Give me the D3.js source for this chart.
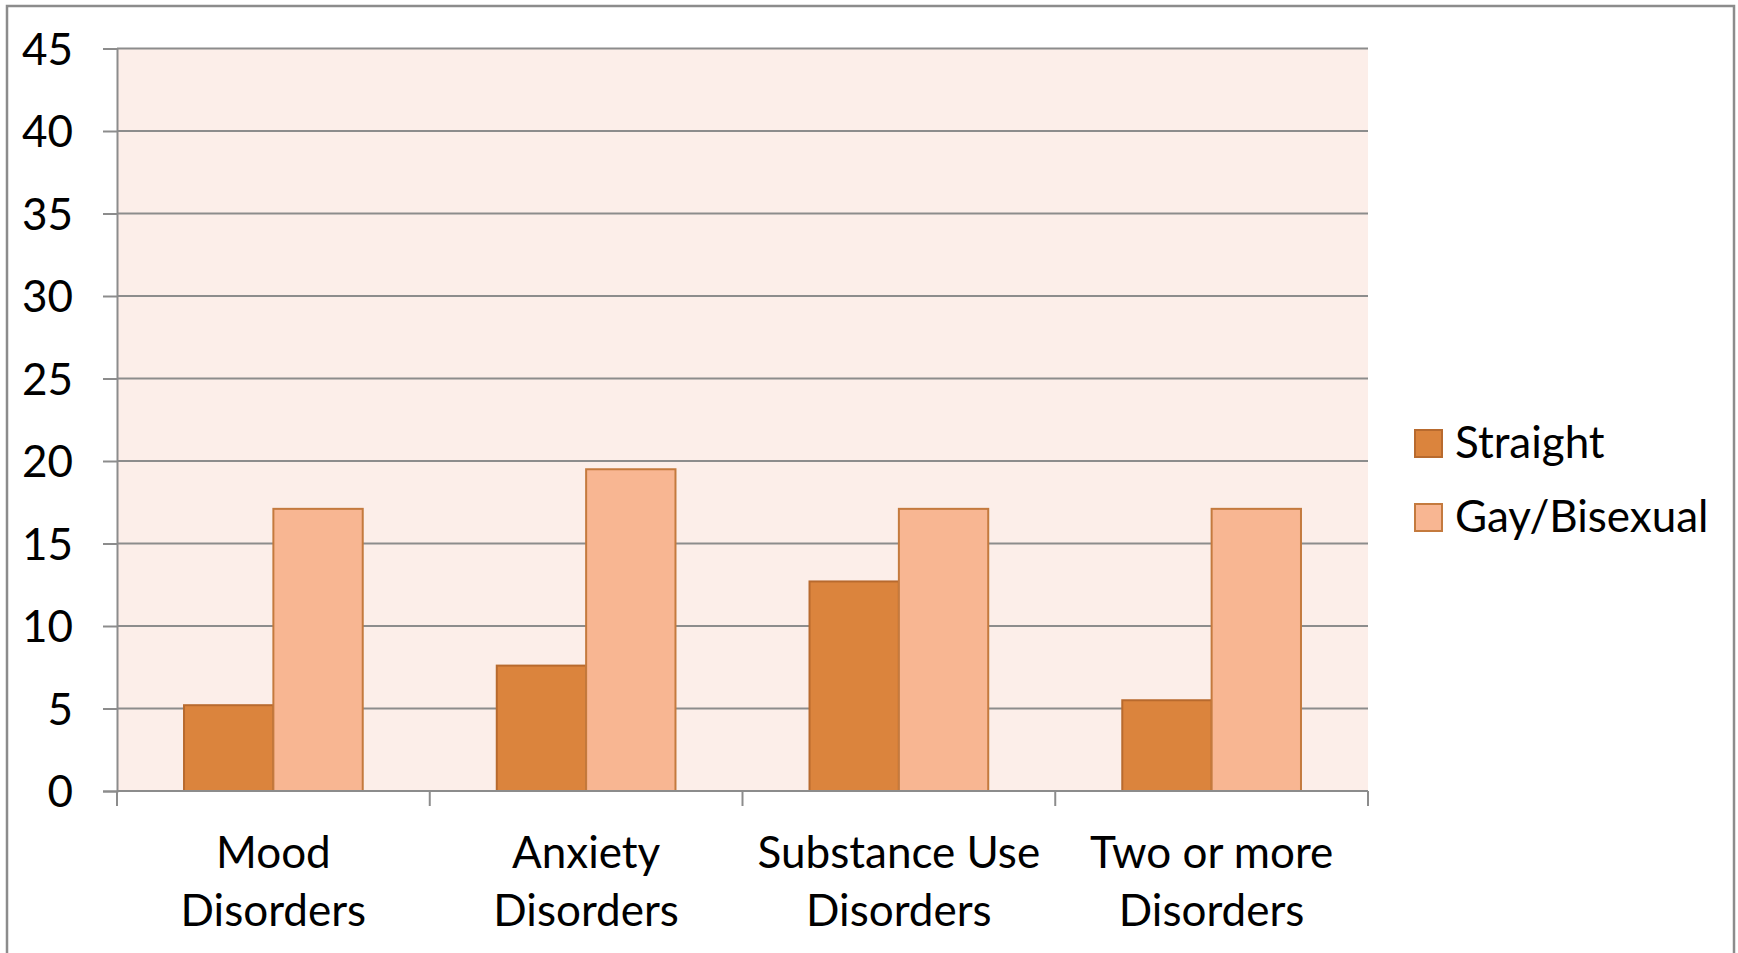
<!DOCTYPE html>
<html>
<head>
<meta charset="utf-8">
<script src="https://cdn.jsdelivr.net/npm/d3@7/dist/d3.min.js"></script>
<style>
  html, body { margin: 0; padding: 0; background: #fff; overflow: hidden; }
  svg { display: block; font-family: Lato, "Open Sans", sans-serif; }
</style>
</head>
<body>
<svg id="chart" width="1738" height="953"></svg>
<script>
// Prevalence of disorders by sexual orientation (%)
const categories = [["Mood", "Disorders"], ["Anxiety", "Disorders"], ["Substance Use", "Disorders"], ["Two or more", "Disorders"]];
const seriesNames = ["Straight", "Gay/Bisexual"];
const straightValues = [5.2, 7.6, 12.7, 5.5];
const gayBisexualValues = [17.1, 19.5, 17.1, 17.1];
const yTicks = [0, 5, 10, 15, 20, 25, 30, 35, 40, 45];

const seriesValues = [straightValues, gayBisexualValues];
const fills = ["#DB843D", "#F8B692"];
const strokes = ["#B86A2E", "#C47A3E"];

const svg = d3.select("#chart");
const plot = { left: 117, right: 1368, top: 48.5, bottom: 791 };
const fontSize = 44;

// outer frame
svg.append("rect")
  .attr("x", 7).attr("y", 6).attr("width", 1727).attr("height", 1000)
  .attr("fill", "#fff").attr("stroke", "#8C8C8C").attr("stroke-width", 2.5);

const catKeys = categories.map((c, i) => i);
const x0 = d3.scaleBand().domain(catKeys).range([plot.left, plot.right]).padding(0);
const x1 = d3.scaleBand().domain(d3.range(seriesNames.length)).range([0, x0.bandwidth()])
  .paddingInner(0).paddingOuter(0.75);
const y = d3.scaleLinear().domain([0, 45]).range([plot.bottom, plot.top]);

// plot background
svg.append("rect")
  .attr("x", plot.left).attr("y", plot.top)
  .attr("width", plot.right - plot.left).attr("height", plot.bottom - plot.top)
  .attr("fill", "#FCEEE9");

// horizontal gridlines
svg.append("g").selectAll("line").data(yTicks).join("line")
  .attr("x1", plot.left).attr("x2", plot.right)
  .attr("y1", d => y(d)).attr("y2", d => y(d))
  .attr("stroke", "#8C8C8C").attr("stroke-width", 2);

// bars
const groups = svg.append("g").selectAll("g").data(catKeys).join("g")
  .attr("transform", i => `translate(${x0(i)},0)`);
groups.selectAll("rect")
  .data(i => seriesValues.map((vals, s) => ({ s, v: vals[i] })))
  .join("rect")
  .attr("x", d => x1(d.s))
  .attr("y", d => y(d.v))
  .attr("width", x1.bandwidth())
  .attr("height", d => y(0) - y(d.v))
  .attr("fill", d => fills[d.s])
  .attr("stroke", d => strokes[d.s])
  .attr("stroke-width", 2);

// y axis
const yAxis = d3.axisLeft(y).tickValues(yTicks).tickSize(14).tickPadding(30).tickFormat(d3.format("d"));
const gy = svg.append("g").attr("transform", `translate(${plot.left},0)`).call(yAxis);
gy.select(".domain").attr("stroke", "#8C8C8C").attr("stroke-width", 2);
gy.selectAll(".tick line").attr("stroke", "#8C8C8C").attr("stroke-width", 2);
gy.selectAll(".tick text")
  .attr("font-size", fontSize).attr("fill", "#000")
  .attr("font-family", "Lato, 'Open Sans', sans-serif")
  .attr("dy", "0.36em");

// x axis: baseline and tick marks at category boundaries
const boundaries = catKeys.map(i => x0(i)).concat([plot.right]);
svg.append("line")
  .attr("x1", plot.left).attr("x2", plot.right)
  .attr("y1", plot.bottom).attr("y2", plot.bottom)
  .attr("stroke", "#8C8C8C").attr("stroke-width", 2);
svg.append("g").selectAll("line").data(boundaries).join("line")
  .attr("x1", d => d).attr("x2", d => d)
  .attr("y1", plot.bottom).attr("y2", plot.bottom + 15)
  .attr("stroke", "#8C8C8C").attr("stroke-width", 2);

// category labels (two lines)
const labels = svg.append("g").selectAll("text").data(catKeys).join("text")
  .attr("x", i => x0(i) + x0.bandwidth() / 2)
  .attr("y", 868)
  .attr("text-anchor", "middle")
  .attr("font-size", fontSize)
  .attr("fill", "#000");
labels.selectAll("tspan").data(i => categories[i]).join("tspan")
  .attr("x", function () { return this.parentNode.getAttribute("x"); })
  .attr("dy", (d, k) => k === 0 ? 0 : 58)
  .text(d => d);

// legend
const legend = svg.append("g").selectAll("g").data(seriesNames).join("g")
  .attr("transform", (d, i) => `translate(1415,${430 + i * 74})`);
legend.append("rect")
  .attr("width", 27).attr("height", 27)
  .attr("fill", (d, i) => fills[i])
  .attr("stroke", (d, i) => strokes[i]).attr("stroke-width", 2);
legend.append("text")
  .attr("x", 40).attr("y", 28)
  .attr("font-size", fontSize).attr("fill", "#000")
  .text(d => d);
</script>
</body>
</html>
